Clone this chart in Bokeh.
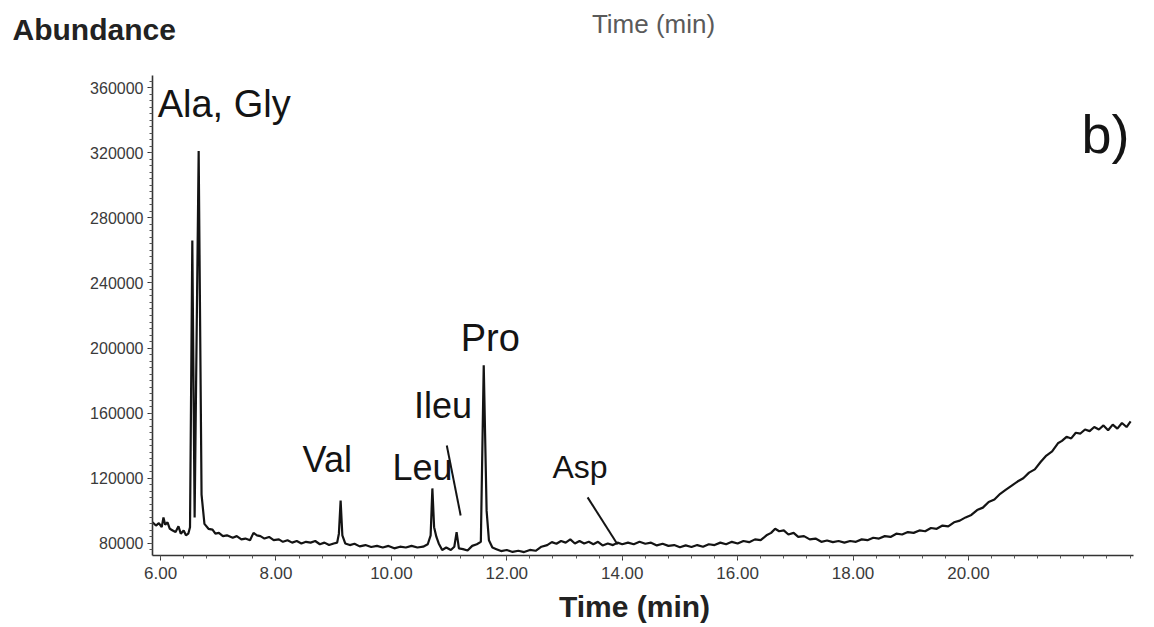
from bokeh.plotting import figure
from bokeh.layouts import column
from bokeh.models import Range1d, FixedTicker, NumeralTickFormatter, ColumnDataSource
from bokeh.core.properties import value
from bokeh.embed import file_html
from bokeh.resources import INLINE

# ---- data (time in min, abundance) ----
time_min = [
    5.86, 5.92, 5.97, 6.02, 6.05, 6.08, 6.12, 6.16, 6.21, 6.26, 6.31, 6.35, 6.40, 6.44, 6.48, 6.51,
    6.55, 6.59, 6.66, 6.71, 6.76, 6.83, 6.90, 6.95, 7.01, 7.08, 7.15, 7.25, 7.32, 7.40, 7.47, 7.55,
    7.61, 7.67, 7.73, 7.80, 7.88, 7.96, 8.05, 8.12, 8.20, 8.28, 8.36, 8.44, 8.52, 8.60, 8.68, 8.76,
    8.84, 8.92, 9.00, 9.06, 9.09, 9.12, 9.15, 9.20, 9.28, 9.36, 9.45, 9.55, 9.65, 9.75, 9.85, 9.95,
    10.05, 10.15, 10.25, 10.35, 10.45, 10.55, 10.63, 10.68, 10.71, 10.74, 10.78, 10.82, 10.88, 10.95,
    11.03, 11.09, 11.13, 11.17, 11.24, 11.32, 11.40, 11.48, 11.55, 11.60, 11.65, 11.69, 11.75, 11.82,
    11.90, 12.00, 12.10, 12.20, 12.30, 12.40, 12.50, 12.60, 12.70, 12.78, 12.86, 12.94, 13.02, 13.10,
    13.18, 13.26, 13.34, 13.42, 13.50, 13.58, 13.66, 13.75, 13.84, 13.92, 14.00, 14.10, 14.20, 14.30,
    14.40, 14.50, 14.60, 14.70, 14.80, 14.90, 15.00, 15.10, 15.20, 15.30, 15.40, 15.50, 15.60, 15.70,
    15.80, 15.90, 16.00, 16.10, 16.20, 16.30, 16.40, 16.50, 16.58, 16.65, 16.72, 16.80, 16.88, 16.97,
    17.05, 17.15, 17.25, 17.35, 17.45, 17.55, 17.65, 17.75, 17.85, 17.95, 18.05, 18.15, 18.25, 18.35,
    18.45, 18.55, 18.65, 18.75, 18.85, 18.95, 19.05, 19.15, 19.25, 19.35, 19.45, 19.55, 19.65, 19.75,
    19.85, 19.95, 20.05, 20.15, 20.25, 20.35, 20.45, 20.55, 20.65, 20.75, 20.85, 20.95, 21.05, 21.15,
    21.25, 21.35, 21.45, 21.55, 21.62, 21.70, 21.78, 21.86, 21.94, 22.02, 22.10, 22.18, 22.26, 22.34,
    22.42, 22.50, 22.58, 22.66, 22.74, 22.81,
]
abundance = [
    93000, 91000, 92500, 90000, 96000, 91500, 93000, 89000, 88000, 87000, 90500, 86000, 88000, 85000, 86000, 90000,
    266000, 96000, 321000, 110000, 92000, 89000, 88500, 86000, 86500, 84500, 85000, 83500, 84500, 82500, 83000, 82000,
    86500, 85000, 84500, 83000, 84000, 82000, 82500, 81000, 82000, 80500, 81500, 80000, 81000, 80500, 81500, 79500,
    80500, 79000, 80000, 80500, 86000, 106400, 85000, 80000, 79000, 79800, 78200, 79000, 77800, 78500, 77500, 78500,
    77000, 78000, 77500, 78500, 77500, 78000, 79500, 85000, 113800, 90000, 84000, 80000, 76000, 77500,
    76000, 78000, 87000, 77000, 76500, 75700, 78500, 79500, 81000, 189400, 100000, 82000, 77500, 76500,
    75300, 76000, 74800, 75500, 74700, 76000, 75500, 78000, 79000, 80800, 79800, 81500, 80500, 82500,
    80000, 81500, 80000, 81000, 79500, 81000, 78800, 80000, 79000, 80500, 79500, 80500, 79500, 81000,
    79800, 80500, 78800, 79800, 78500, 79000, 77700, 78800, 77800, 79000, 78000, 79500, 79000, 80500,
    79500, 81000, 80000, 81500, 80800, 82500, 82000, 85000, 86500, 89000, 87500, 88000, 85500, 86500,
    84000, 84500, 82500, 83000, 81000, 81800, 80800, 81500, 80500, 81500, 81000, 82500, 82000, 83500,
    83000, 84500, 84000, 86000, 85500, 87000, 86500, 88000, 87500, 89500, 89000, 91000, 90500, 93000,
    94000, 96000, 97500, 100500, 102000, 105500, 107000, 110500, 113000, 115500, 118000, 120000, 123500, 125500,
    130000, 134000, 136500, 141500, 143000, 145500, 144500, 148000, 147500, 150000, 149000, 151500, 150000, 152500,
    149500, 153000, 150500, 154000, 151500, 155000,
]

x_ticks = [6, 8, 10, 12, 14, 16, 18, 20]
y_ticks = [80000, 120000, 160000, 200000, 240000, 280000, 320000, 360000]

peak_names = ["Ala, Gly", "Val", "Leu", "Ileu", "Pro", "Asp", "b)"]
peak_label_x = [5.95, 8.46, 10.02, 10.39, 11.20, 12.79, 21.96]
peak_label_y = [349700, 131300, 126700, 164800, 205900, 126850, 331500]
peak_label_size = ["38px", "36px", "36px", "36px", "38px", "32px", "54px"]

pointer_x0 = [10.96, 13.40]
pointer_y0 = [140200, 108300]
pointer_x1 = [11.20, 13.92]
pointer_y1 = [97200, 79400]

FONT = "Liberation Sans"
INK = "#141414"
W = 1146


def text_strip(h, y_top):
    """A blank figure whose frame fills the canvas, addressed in page pixels."""
    f = figure(width=W, height=h, output_backend="svg", toolbar_location=None,
               title_location=None,
               x_range=Range1d(0, W), y_range=Range1d(y_top + h, y_top),
               x_axis_type=None, y_axis_type=None, frame_align=False,
               min_border_left=0, min_border_right=0, min_border_top=0, min_border_bottom=0)
    f.outline_line_color = None
    f.xgrid.visible = False
    f.ygrid.visible = False
    return f


# header strip: "Abundance" and the faint top "Time (min)"
top = text_strip(75, 0)
top.text(x=[12], y=[29], text=["Abundance"], text_font=value(FONT), text_font_size="30px",
         text_font_style="bold", text_color="#222222", text_align="left", text_baseline="alphabetic")
top.text(x=[653], y=[23], text=["Time (min)"], text_font=value(FONT), text_font_size="26px",
         text_color="#5a5a5a", text_align="center", text_baseline="alphabetic")

# main chromatogram
p = figure(
    width=W, height=514, frame_align=False,
    output_backend="svg", toolbar_location=None,
    x_range=Range1d(5.86, 22.86), y_range=Range1d(72600, 367400),
    min_border_left=152, min_border_right=13, min_border_top=0, min_border_bottom=34,
)
p.outline_line_color = None
p.xgrid.visible = False
p.ygrid.visible = False

p.xaxis.ticker = FixedTicker(ticks=x_ticks, minor_ticks=[round(6 + 0.4 * i, 2) for i in range(43)])
p.yaxis.ticker = FixedTicker(ticks=y_ticks, minor_ticks=list(range(76000, 368000, 4000)))
p.xaxis.formatter = NumeralTickFormatter(format="0.00")
p.yaxis.formatter = NumeralTickFormatter(format="0")
for ax in (p.xaxis[0], p.yaxis[0]):
    ax.axis_line_color = "#333333"
    ax.axis_line_width = 1.6
    ax.major_tick_line_color = "#333333"
    ax.minor_tick_line_color = "#555555"
    ax.major_tick_in = 0
    ax.minor_tick_in = 0
    ax.major_tick_out = 5
    ax.minor_tick_out = 3
    ax.major_label_text_font = FONT
    ax.major_label_text_color = "#3a3a3a"
p.xaxis.major_label_text_font_size = "17px"
p.xaxis.major_label_standoff = 6
p.yaxis.major_label_text_font_size = "16px"
p.yaxis.major_label_standoff = 4

src = ColumnDataSource(dict(t=time_min, a=abundance))
p.line("t", "a", source=src, line_color=INK, line_width=2.2)

lab_src = ColumnDataSource(dict(x=peak_label_x, y=peak_label_y, text=peak_names, size=peak_label_size))
p.text("x", "y", text="text", source=lab_src, text_font=value(FONT), text_font_size="size",
       text_color=INK, text_align="left", text_baseline="alphabetic")

p.segment(pointer_x0, pointer_y0, pointer_x1, pointer_y1, line_color=INK, line_width=2)

# footer strip: bold x-axis title
bot = text_strip(36, 589)
bot.text(x=[634], y=[606], text=["Time (min)"], text_font=value(FONT), text_font_size="30px",
         text_font_style="bold", text_color="#222222", text_align="center", text_baseline="alphabetic")

layout = column(top, p, bot, spacing=0)
open("out.html", "w").write(file_html(layout, INLINE))
